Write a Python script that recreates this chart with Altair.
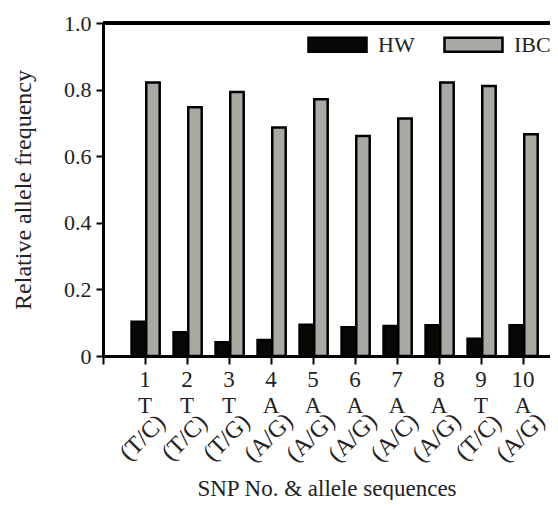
import altair as alt
import pandas as pd

# ---- data ----
snp = [1, 2, 3, 4, 5, 6, 7, 8, 9, 10]
base = ["T", "T", "T", "A", "A", "A", "A", "A", "T", "A"]
alleles = ["(T/C)", "(T/C)", "(T/G)", "(A/G)", "(A/G)", "(A/G)", "(A/C)", "(A/G)", "(T/C)", "(A/G)"]
hw = [0.103, 0.071, 0.041, 0.048, 0.094, 0.086, 0.090, 0.092, 0.052, 0.092]
ibc = [0.821, 0.747, 0.793, 0.686, 0.771, 0.661, 0.713, 0.821, 0.811, 0.666]
series = ["HW", "IBC"]
y_ticks = [0, 0.2, 0.4, 0.6, 0.8, 1.0]
x_ticks = [0, 1, 2, 3, 4, 5, 6, 7, 8, 9, 10]

W, H = 447, 333
FONT = "Liberation Serif"

bars_df = pd.DataFrame(
    [{"snp": s, "series": "HW", "value": v} for s, v in zip(snp, hw)]
    + [{"snp": s, "series": "IBC", "value": v} for s, v in zip(snp, ibc)]
)
cat_df = pd.DataFrame({"snp": snp, "base": base, "allele": alleles})

xscale = alt.Scale(domain=[0, W / 42], nice=False, zero=False)
yscale = alt.Scale(domain=[0, 1], nice=False)

bars = (
    alt.Chart(bars_df)
    .transform_calculate(
        x0="datum.series === 'HW' ? datum.snp - 0.32 : datum.snp + 0.03",
        x1="datum.series === 'HW' ? datum.snp + 0.03 : datum.snp + 0.35",
    )
    .mark_bar(stroke="black", strokeWidth=2.5)
    .encode(
        x=alt.X(
            "x0:Q",
            scale=xscale,
            axis=alt.Axis(
                values=x_ticks,
                labels=False,
                grid=False,
                domainColor="black",
                domainWidth=3,
                tickColor="black",
                tickWidth=2,
                tickSize=8,
                title="SNP No. & allele sequences",
                titleFontSize=23,
                titleY=132,
                titleBaseline="middle",
            ),
        ),
        x2="x1:Q",
        y=alt.Y(
            "value:Q",
            scale=yscale,
            axis=alt.Axis(
                values=y_ticks,
                labelExpr="datum.value == 0 ? '0' : format(datum.value, '.1f')",
                labelFontSize=22,
                labelPadding=5,
                grid=False,
                domainColor="black",
                domainWidth=3,
                tickColor="black",
                tickWidth=2,
                tickSize=7,
                title="Relative allele frequency",
                titleFontSize=24,
                titleX=-80,
                titleY=H / 2,
                titleBaseline="middle",
            ),
        ),
        y2=alt.datum(0),
        color=alt.Color(
            "series:N",
            scale=alt.Scale(domain=series, range=["#0a0707", "#a9aaa4"]),
            legend=alt.Legend(
                title=None,
                orient="none",
                direction="horizontal",
                legendX=204,
                legendY=-9,
                padding=0,
                symbolType="M-1,-0.24H1V0.24H-1Z",
                symbolSize=3364,
                symbolStrokeColor="black",
                symbolStrokeWidth=2.5,
                labelFontSize=22,
                labelOffset=10,
                columnPadding=24,
            ),
        ),
    )
)

num_text = (
    alt.Chart(cat_df)
    .mark_text(font=FONT, fontSize=23, color="#222", align="center", baseline="middle")
    .encode(x=alt.X("snp:Q", scale=xscale), y=alt.value(357), text="snp:N")
)
base_text = (
    alt.Chart(cat_df)
    .mark_text(font=FONT, fontSize=23, color="#222", align="center", baseline="middle")
    .encode(x=alt.X("snp:Q", scale=xscale), y=alt.value(383), text="base:N")
)
allele_text = (
    alt.Chart(cat_df)
    .transform_calculate(xa="datum.snp - 0.05")
    .mark_text(font=FONT, fontSize=24, color="#222", align="center", baseline="middle", angle=315)
    .encode(x=alt.X("xa:Q", scale=xscale), y=alt.value(415), text="allele:N")
)
top_rule = (
    alt.Chart(cat_df)
    .mark_rule(color="black", strokeWidth=3)
    .encode(x=alt.value(0), x2=alt.value(W), y=alt.value(0))
)

chart = (
    alt.layer(bars, num_text, base_text, allele_text, top_rule)
    .properties(
        width=W,
        height=H,
        autosize=alt.AutoSizeParams(type="none"),
        padding={"left": 95, "top": 15, "right": 0, "bottom": 144},
    )
    .configure_view(strokeWidth=0)
    .configure(font=FONT)
    .configure_axis(
        labelFont=FONT,
        titleFont=FONT,
        labelColor="#222",
        titleColor="#222",
        titleFontWeight="normal",
    )
    .configure_legend(labelFont=FONT, labelColor="#222")
)

chart.save("out.html", embed_options={"renderer": "svg", "actions": False})
